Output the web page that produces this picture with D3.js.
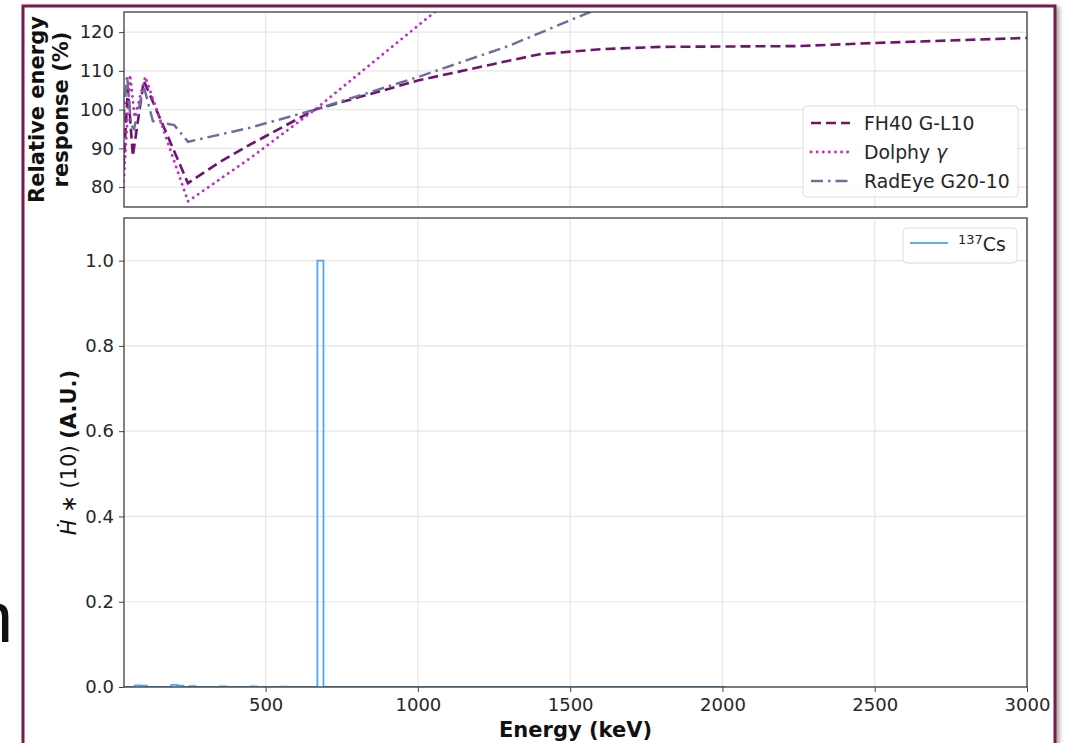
<!DOCTYPE html>
<html>
<head>
  <meta charset='utf-8'>
  <title>Energy response</title>
  <script src="https://cdnjs.cloudflare.com/ajax/libs/d3/7.8.5/d3.min.js"></script>
  <style>
    html, body {
      margin: 0;
      padding: 0;
      background: white;
      overflow: hidden;
    }
    svg {
      display: block;
      font-family: 'DejaVu Sans', sans-serif;
    }
  </style>
</head>
<body>
  <svg id="chart"></svg>
  <script>
    // detector response curves (energy keV, relative response %)
    const fh40Energy = [33, 48, 64, 100, 245, 350, 450, 662, 1000, 1250, 1400, 1600, 1800, 2250, 2500, 3000];
    const fh40Resp = [85, 105.5, 88, 107.5, 81, 86.5, 91, 100, 107.5, 111.8, 114.3, 115.6, 116.2, 116.4, 117.2, 118.5];

    const dolphyEnergy = [33, 55, 70, 105, 245, 450, 662, 1060, 1200];
    const dolphyResp = [80, 109, 98, 108.5, 76.3, 87.5, 100, 125.5, 134];

    const radeyeEnergy = [33, 45, 58, 68, 100, 130, 200, 245, 448, 662, 1000, 1300, 1553, 1700];
    const radeyeResp = [97, 109, 96, 95, 106, 97, 96, 91.7, 95.3, 100, 108.4, 116.5, 124.8, 129];

    const seriesNames = ["FH40 G-L10", "Dolphy ", "RadEye G20-10"];

    // Cs-137 spectrum, 20 keV bins from 30 to 2000 keV, non-empty bins only
    const histStart = 30;
    const histEnd = 2010;
    const binWidth = 20;
    const csBinLow = [70, 90, 190, 210, 250, 350, 450, 550, 670];
    const csBinValue = [0.004, 0.003, 0.005, 0.003, 0.002, 0.0015, 0.0012, 0.001, 1.0];

    const xTicks = [500, 1000, 1500, 2000, 2500, 3000];
    const topYTicks = [80, 90, 100, 110, 120];
    const botYTicks = [0.0, 0.2, 0.4, 0.6, 0.8, 1.0];

    const width = 1066;
    const height = 743;
    const left = 124, right = 1027;
    const topBox = {y0: 12, y1: 207};
    const botBox = {y0: 218, y1: 687};

    const svg = d3.select('#chart').attr('width', width).attr('height', height);

    // shadow for the frame
    const defs = svg.append('defs');
    const f = defs.append('filter').attr('id', 'shadow').attr('x', '-5%').attr('y', '-5%').attr('width', '110%').attr('height', '110%');
    f.append('feDropShadow').attr('dx', 3).attr('dy', 2).attr('stdDeviation', 2).attr('flood-color', '#000').attr('flood-opacity', 0.35);

    // the letter cut by the left edge of the slide
    svg.append('text')
      .attr('x', -27).attr('y', 642)
      .attr('font-family', 'Liberation Sans, sans-serif')
      .attr('font-size', 72)
      .attr('fill', '#111')
      .text('n');

    // framed card
    svg.append('rect')
      .attr('x', 23).attr('y', 6)
      .attr('width', 1032).attr('height', 760)
      .attr('fill', 'white')
      .attr('stroke', '#761d4f')
      .attr('stroke-width', 3)
      .attr('filter', 'url(#shadow)');

    const x = d3.scaleLinear().domain([35, 3000]).range([left, right]);
    const yTop = d3.scaleLinear().domain([74.85, 125.2]).range([topBox.y1, topBox.y0]);
    const yBot = d3.scaleLinear().domain([0, 1.1]).range([botBox.y1, botBox.y0]);

    const gridColor = '#e6e6e6';
    const tickFont = 18;
    const legendFont = 18.8;
    const labelFont = 21;

    function panel(yScale, box, yTickVals, fmt, showX) {
      const g = svg.append('g');
      // grid
      g.append('g').selectAll('line').data(xTicks).join('line')
        .attr('x1', d => x(d)).attr('x2', d => x(d))
        .attr('y1', box.y0).attr('y2', box.y1)
        .attr('stroke', gridColor).attr('stroke-width', 1.2);
      g.append('g').selectAll('line').data(yTickVals).join('line')
        .attr('x1', left).attr('x2', right)
        .attr('y1', d => yScale(d)).attr('y2', d => yScale(d))
        .attr('stroke', gridColor).attr('stroke-width', 1.2);

      // y axis
      const ya = g.append('g').attr('transform', `translate(${left},0)`)
        .call(d3.axisLeft(yScale).tickValues(yTickVals).tickFormat(fmt).tickSize(5).tickPadding(5));
      ya.select('.domain').remove();
      ya.selectAll('text').attr('font-size', tickFont).attr('font-family', 'DejaVu Sans').attr('fill', '#262626');
      ya.selectAll('line').attr('stroke', '#444');

      if (showX) {
        const xa = g.append('g').attr('transform', `translate(0,${box.y1})`)
          .call(d3.axisBottom(x).tickValues(xTicks).tickFormat(d3.format('d')).tickSize(5).tickPadding(6));
        xa.select('.domain').remove();
        xa.selectAll('text').attr('font-size', tickFont).attr('font-family', 'DejaVu Sans').attr('fill', '#262626');
        xa.selectAll('line').attr('stroke', '#444');
      }

      const clipId = 'clip' + box.y0;
      defs.append('clipPath').attr('id', clipId)
        .append('rect').attr('x', left).attr('y', box.y0)
        .attr('width', right - left).attr('height', box.y1 - box.y0);

      const plot = svg.append('g').attr('clip-path', `url(#${clipId})`);
      return {g, plot};
    }

    function frame(box) {
      svg.append('rect')
        .attr('x', left).attr('y', box.y0)
        .attr('width', right - left).attr('height', box.y1 - box.y0)
        .attr('fill', 'none').attr('stroke', '#3d3d3d').attr('stroke-width', 1.3);
    }

    // ---------- top panel ----------
    const topPanel = panel(yTop, topBox, topYTicks, d3.format('d'), false);
    const line = d3.line().x(d => x(d[0])).y(d => yTop(d[1]));

    const styles = [
      {color: '#6e146e', dash: '10,5', cap: 'butt', w: 2.6},
      {color: '#c42ac4', dash: '0.1,6', cap: 'round', w: 2.8},
      {color: '#6f6f9e', dash: '12,5,2.5,5', cap: 'butt', w: 2.5}
    ];
    const curves = [
      d3.zip(fh40Energy, fh40Resp),
      d3.zip(dolphyEnergy, dolphyResp),
      d3.zip(radeyeEnergy, radeyeResp)
    ];
    curves.forEach((c, i) => {
      topPanel.plot.append('path')
        .datum(c)
        .attr('d', line)
        .attr('fill', 'none')
        .attr('stroke', styles[i].color)
        .attr('stroke-width', styles[i].w)
        .attr('stroke-dasharray', styles[i].dash)
        .attr('stroke-linecap', styles[i].cap);
    });
    frame(topBox);

    // top legend
    const leg = svg.append('g').attr('transform', 'translate(803,106)');
    leg.append('rect').attr('width', 215).attr('height', 91).attr('rx', 4)
      .attr('fill', 'white').attr('fill-opacity', 0.85)
      .attr('stroke', '#dcdcdc').attr('stroke-width', 1);
    seriesNames.forEach((name, i) => {
      const yy = 17 + i * 29;
      leg.append('line').attr('x1', 8).attr('x2', 47).attr('y1', yy).attr('y2', yy)
        .attr('stroke', styles[i].color).attr('stroke-width', styles[i].w)
        .attr('stroke-dasharray', styles[i].dash).attr('stroke-linecap', styles[i].cap);
      const t = leg.append('text').attr('x', 61).attr('y', yy + 6.5)
        .attr('font-size', legendFont).attr('fill', '#262626').text(name);
      if (i === 1) t.append('tspan').attr('font-style', 'italic').text('\u03b3');
    });

    // top y label (two lines)
    [['Relative energy', 44], ['response (%)', 68]].forEach(([t, bx]) => {
      svg.append('text')
        .attr('transform', `translate(${bx},${(topBox.y0 + topBox.y1) / 2}) rotate(-90)`)
        .attr('text-anchor', 'middle')
        .attr('font-size', labelFont).attr('font-weight', 'bold').attr('fill', '#111')
        .text(t);
    });

    // ---------- bottom panel ----------
    const botPanel = panel(yBot, botBox, botYTicks, d3.format('.1f'), true);

    const binLows = d3.range(histStart, histEnd, binWidth);
    const steps = binLows.map(lo => {
      const k = csBinLow.indexOf(lo);
      return [lo, k >= 0 ? csBinValue[k] : 0];
    });
    steps.unshift([histStart, 0]);
    steps.push([histEnd, steps[steps.length - 1][1]], [histEnd, 0]);
    const stepLine = d3.line().x(d => x(d[0])).y(d => yBot(d[1])).curve(d3.curveStepAfter);
    botPanel.plot.append('path')
      .datum(steps)
      .attr('d', stepLine)
      .attr('fill', 'none')
      .attr('stroke', '#4fa5f7')
      .attr('stroke-width', 1.8);
    frame(botBox);

    // bottom legend
    const leg2 = svg.append('g').attr('transform', 'translate(903,228)');
    leg2.append('rect').attr('width', 114).attr('height', 35).attr('rx', 4)
      .attr('fill', 'white').attr('fill-opacity', 0.85)
      .attr('stroke', '#dcdcdc').attr('stroke-width', 1);
    leg2.append('line').attr('x1', 7).attr('x2', 45).attr('y1', 15).attr('y2', 15)
      .attr('stroke', '#5aacf5').attr('stroke-width', 1.8);
    const lt = leg2.append('text').attr('x', 55).attr('y', 23).attr('fill', '#262626');
    lt.append('tspan').attr('font-size', 13).attr('dy', -7).text('137');
    lt.append('tspan').attr('font-size', legendFont).attr('dy', 7).text('Cs');

    // bottom y label
    const yl = svg.append('text')
      .attr('transform', `translate(76,${(botBox.y0 + botBox.y1) / 2}) rotate(-90)`)
      .attr('text-anchor', 'middle')
      .attr('font-size', labelFont).attr('fill', '#111');
    yl.append('tspan').attr('font-style', 'italic').text('\u1E22');
    yl.append('tspan').text(' \u2217 (10) ');
    yl.append('tspan').attr('font-weight', 'bold').text('(A.U.)');

    // x label
    svg.append('text')
      .attr('x', (left + right) / 2).attr('y', 737)
      .attr('text-anchor', 'middle')
      .attr('font-size', labelFont).attr('font-weight', 'bold').attr('fill', '#111')
      .text('Energy (keV)');
  </script>
</body>
</html>
